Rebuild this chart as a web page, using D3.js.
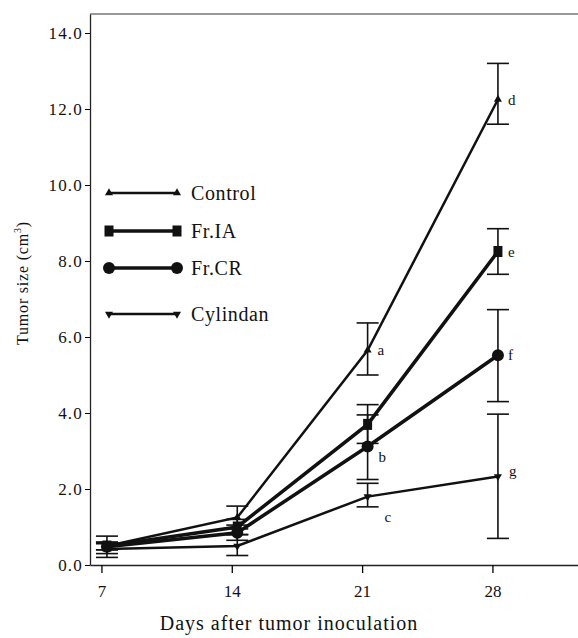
<!DOCTYPE html>
<html>
<head>
<meta charset="utf-8">
<script src="https://cdn.jsdelivr.net/npm/d3@7"></script>
<style>
  body { margin: 0; background: #fff; }
  text { font-family: "Liberation Serif", "DejaVu Serif", serif; fill: #111; }
</style>
</head>
<body>
<div class="chart"></div>
<script>
var svgWidth = 578;
var svgHeight = 638;

// data
var days = [7, 14, 21, 28];
var seriesNames = ["Control", "Fr.IA", "Fr.CR", "Cylindan"];
var controlMean = [0.5, 1.25, 5.65, 12.25];
var controlLow  = [0.3, 0.95, 5.0, 11.6];
var controlHigh = [0.76, 1.55, 6.37, 13.2];
var iaMean = [0.5, 1.0, 3.7, 8.25];
var iaLow  = [0.4, 0.8, 3.2, 7.65];
var iaHigh = [0.6, 1.2, 4.22, 8.85];
var crMean = [0.48, 0.85, 3.12, 5.52];
var crLow  = [0.4, 0.65, 2.25, 4.3];
var crHigh = [0.56, 1.05, 3.95, 6.72];
var cylMean = [0.42, 0.5, 1.8, 2.33];
var cylLow  = [0.2, 0.25, 1.53, 0.7];
var cylHigh = [0.6, 0.8, 2.15, 3.97];
var pointLetters = [["", "", "a", "d"], ["", "", "", "e"], ["", "", "b", "f"], ["", "", "c", "g"]];
var yTicks = [0, 2, 4, 6, 8, 10, 12, 14];

var series = [
  {name: seriesNames[0], mean: controlMean, low: controlLow, high: controlHigh, marker: "tri", width: 2.5},
  {name: seriesNames[1], mean: iaMean, low: iaLow, high: iaHigh, marker: "sq", width: 3.5},
  {name: seriesNames[2], mean: crMean, low: crLow, high: crHigh, marker: "circle", width: 3.5},
  {name: seriesNames[3], mean: cylMean, low: cylLow, high: cylHigh, marker: "tridown", width: 2.5}
];

var svg = d3.select(".chart")
  .append("svg")
  .attr("width", svgWidth)
  .attr("height", svgHeight);

var x = d3.scaleLinear().domain([6.09, 32.3]).range([90, 578]);
var y = d3.scaleLinear().domain([0, 14.5]).range([565, 14]);

// frame: top border line
svg.append("line")
  .attr("x1", 90).attr("x2", 578)
  .attr("y1", y(14.5)).attr("y2", y(14.5))
  .attr("stroke", "#333").attr("stroke-width", 1.2);

// y axis
var yAxis = svg.append("g")
  .attr("transform", "translate(90,0)")
  .call(d3.axisLeft(y).tickValues(yTicks).tickFormat(d3.format(".1f")).tickSize(5).tickSizeOuter(0));
yAxis.select(".domain").attr("stroke", "#222").attr("stroke-width", 1.3);
yAxis.selectAll("text").attr("font-size", 17).attr("letter-spacing", 1.2).attr("dx", "1");

// x axis
var xAxis = svg.append("g")
  .attr("transform", "translate(0,565)")
  .call(d3.axisBottom(x).tickValues(days).tickFormat(d3.format("d")).tickSize(8).tickSizeOuter(0));
xAxis.select(".domain").attr("stroke", "#222").attr("stroke-width", 1.3);
xAxis.selectAll(".tick").attr("transform", function(d) { return "translate(" + (x(d) - 5) + ",0)"; });
xAxis.selectAll("line").attr("stroke-width", 1.3);
xAxis.selectAll("text").attr("font-size", 17).attr("dy", "1.25em");

svg.append("text")
  .attr("x", 289).attr("y", 630)
  .attr("text-anchor", "middle")
  .attr("font-size", 20)
  .attr("letter-spacing", 1)
  .text("Days after tumor inoculation");

var yl = svg.append("text")
  .attr("transform", "translate(28,283) rotate(-90)")
  .attr("text-anchor", "middle")
  .attr("font-size", 16)
  .attr("letter-spacing", 0.8);
yl.append("tspan").text("Tumor size (cm");
yl.append("tspan").attr("font-size", 10).attr("dy", -7).text("3");
yl.append("tspan").attr("dy", 7).text(")");

function drawMarker(g, type, cx, cy) {
  if (type === "circle") {
    g.append("circle").attr("cx", cx).attr("cy", cy).attr("r", 6).attr("fill", "#111");
  } else if (type === "sq") {
    g.append("rect").attr("x", cx - 4.5).attr("y", cy - 5.5).attr("width", 9).attr("height", 11).attr("fill", "#111");
  } else if (type === "tri") {
    g.append("path").attr("d", d3.symbol(d3.symbolTriangle, 28)()).attr("transform", "translate(" + cx + "," + cy + ")").attr("fill", "#111");
  } else {
    g.append("path").attr("d", d3.symbol(d3.symbolTriangle, 28)()).attr("transform", "translate(" + cx + "," + cy + ") rotate(180)").attr("fill", "#111");
  }
}

var line = d3.line().x(function(d) { return x(d[0]); }).y(function(d) { return y(d[1]); });

series.forEach(function(s, si) {
  var g = svg.append("g");
  // error bars
  days.forEach(function(d, i) {
    g.append("line").attr("x1", x(d)).attr("x2", x(d)).attr("y1", y(s.low[i])).attr("y2", y(s.high[i]))
      .attr("stroke", "#111").attr("stroke-width", 1.6);
    [s.low[i], s.high[i]].forEach(function(v) {
      g.append("line").attr("x1", x(d) - 11).attr("x2", x(d) + 11).attr("y1", y(v)).attr("y2", y(v))
        .attr("stroke", "#111").attr("stroke-width", 1.6);
    });
  });
  g.append("path")
    .datum(days.map(function(d, i) { return [d, s.mean[i]]; }))
    .attr("d", line)
    .attr("fill", "none")
    .attr("stroke", "#111")
    .attr("stroke-width", s.width);
  days.forEach(function(d, i) {
    drawMarker(g, s.marker, x(d), y(s.mean[i]));
    var lt = pointLetters[si][i];
    if (lt) {
      var dy = 5;
      var dx = 10;
      if (lt === "b") { dx = 11; dy = 16; }
      if (lt === "c") { dx = 17; dy = 25; }
      if (lt === "g") { dx = 11; dy = 0; }
      g.append("text").attr("x", x(d) + dx).attr("y", y(s.mean[i]) + dy)
        .attr("font-size", 15).text(lt);
    }
  });
});

// legend
var legend = svg.append("g");
var legY = [193, 231, 268, 314];
series.forEach(function(s, i) {
  legend.append("line").attr("x1", 109).attr("x2", 177).attr("y1", legY[i]).attr("y2", legY[i])
    .attr("stroke", "#111").attr("stroke-width", s.width);
  drawMarker(legend, s.marker, 109, legY[i]);
  drawMarker(legend, s.marker, 177, legY[i]);
  legend.append("text").attr("x", 191).attr("y", legY[i] + 7).attr("font-size", 20)
    .attr("letter-spacing", 0.6).text(s.name);
});
</script>
</body>
</html>
